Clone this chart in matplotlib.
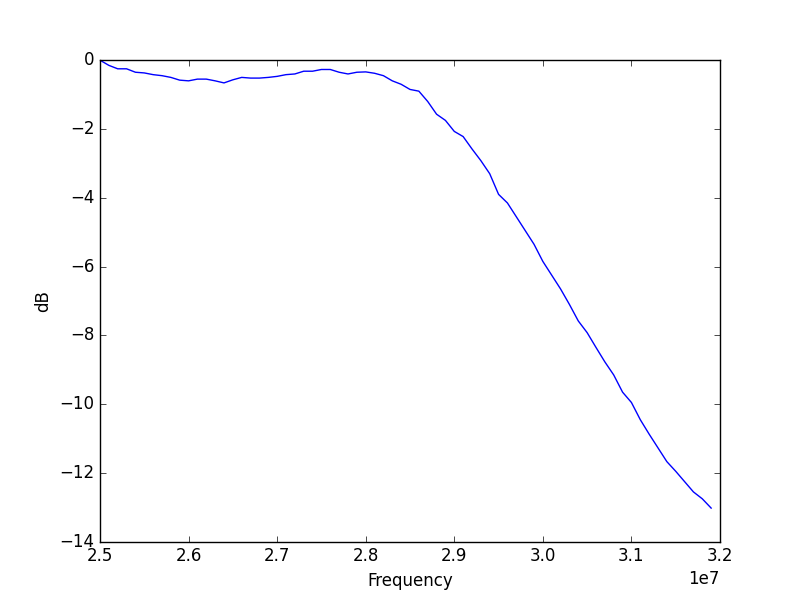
import numpy as np
import matplotlib
matplotlib.use("Agg")
import matplotlib.pyplot as plt

plt.style.use("classic")

# frequency samples (Hz) and measured response (dB)
freq = [
    2.50e7, 2.51e7, 2.52e7, 2.53e7, 2.54e7, 2.55e7, 2.56e7, 2.57e7, 2.58e7, 2.59e7,
    2.60e7, 2.61e7, 2.62e7, 2.63e7, 2.64e7, 2.65e7, 2.66e7, 2.67e7, 2.68e7, 2.69e7,
    2.70e7, 2.71e7, 2.72e7, 2.73e7, 2.74e7, 2.75e7, 2.76e7, 2.77e7, 2.78e7, 2.79e7,
    2.80e7, 2.81e7, 2.82e7, 2.83e7, 2.84e7, 2.85e7, 2.86e7, 2.87e7, 2.88e7, 2.89e7,
    2.90e7, 2.91e7, 2.92e7, 2.93e7, 2.94e7, 2.95e7, 2.96e7, 2.97e7, 2.98e7, 2.99e7,
    3.00e7, 3.01e7, 3.02e7, 3.03e7, 3.04e7, 3.05e7, 3.06e7, 3.07e7, 3.08e7, 3.09e7,
    3.10e7, 3.11e7, 3.12e7, 3.13e7, 3.14e7, 3.15e7, 3.16e7, 3.17e7, 3.18e7, 3.19e7,
]
gain_db = [
    0.00, -0.15, -0.25, -0.25, -0.35, -0.37, -0.42, -0.45, -0.50, -0.58,
    -0.60, -0.55, -0.55, -0.60, -0.66, -0.57, -0.50, -0.52, -0.52, -0.50,
    -0.47, -0.42, -0.40, -0.32, -0.32, -0.27, -0.27, -0.35, -0.40, -0.35,
    -0.34, -0.38, -0.45, -0.60, -0.70, -0.85, -0.90, -1.20, -1.57, -1.75,
    -2.07, -2.22, -2.58, -2.92, -3.30, -3.90, -4.15, -4.55, -4.95, -5.35,
    -5.85, -6.25, -6.65, -7.10, -7.58, -7.92, -8.35, -8.77, -9.15, -9.65,
    -9.95, -10.45, -10.87, -11.27, -11.67, -11.95, -12.25, -12.55, -12.75, -13.02,
]

fig = plt.figure(figsize=(8, 6.02), dpi=100)
fig.patch.set_facecolor("white")
ax = fig.add_subplot(111)

ax.plot(freq, gain_db, "b-", linewidth=1)
ax.set_xlim(2.5e7, 3.2e7)
ax.set_ylim(-14, 0)
ax.set_xlabel("Frequency")
ax.set_ylabel("dB")

fig.savefig("out.png", dpi=100, facecolor="white")
